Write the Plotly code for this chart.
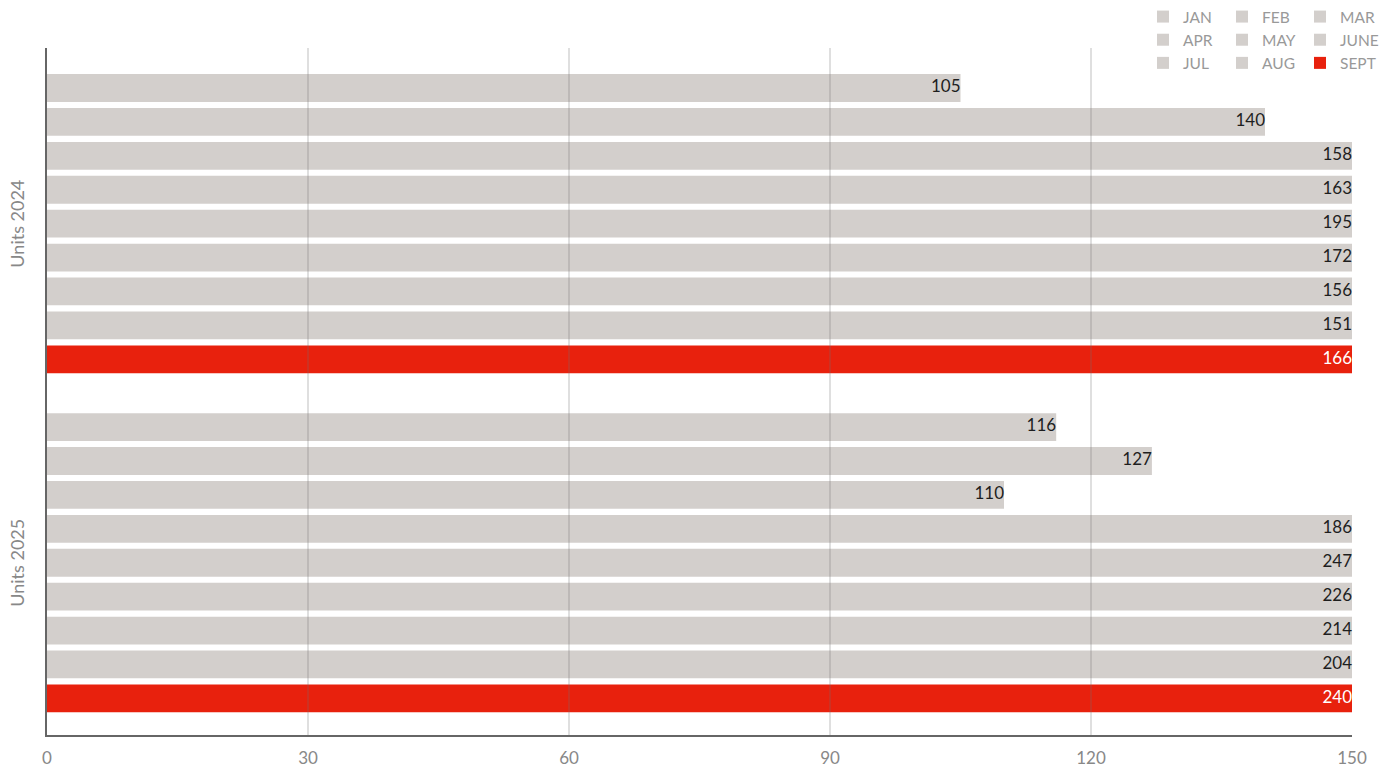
import plotly.graph_objects as go

months = ["JAN", "FEB", "MAR", "APR", "MAY", "JUNE", "JUL", "AUG", "SEPT"]
units_2024 = [105, 140, 158, 163, 195, 172, 156, 151, 166]
units_2025 = [116, 127, 110, 186, 247, 226, 214, 204, 240]
group_labels = ["Units 2024", "Units 2025"]
x_ticks = [0, 30, 60, 90, 120, 150]

GRAY = "#d3cfcc"
RED = "#e8210d"
FONT = "Lato, 'Open Sans', sans-serif"
X_MAX = 150
W, H = 1397, 771

# y positions: 2024 block, one empty slot, 2025 block
pos_2024 = list(range(len(months)))
pos_2025 = [len(months) + 1 + i for i in range(len(months))]

legend_of = ["legend", "legend2", "legend3"]

fig = go.Figure()
for i, m in enumerate(months):
    is_last = (i == len(months) - 1)
    color = RED if is_last else GRAY
    vals = [units_2024[i], units_2025[i]]
    fig.add_trace(go.Bar(
        orientation="h",
        y=[pos_2024[i], pos_2025[i]],
        x=vals,
        name=m,
        width=0.82,
        marker=dict(color=color, line=dict(width=0)),
        legend=legend_of[i % 3],
        legendgroup=m,
        showlegend=True,
        hoverinfo="x+name",
    ))
    # value labels, placed at the visible end of the bar
    fig.add_trace(go.Scatter(
        x=[min(v, X_MAX) for v in vals],
        y=[pos_2024[i], pos_2025[i]],
        mode="text",
        text=[str(v) for v in vals],
        textposition="middle left",
        textfont=dict(family=FONT, size=17,
                      color="#ffffff" if is_last else "#1e1e1e"),
        showlegend=False,
        hoverinfo="skip",
        cliponaxis=False,
    ))

n_slots = pos_2025[-1]
fig.update_layout(
    width=W, height=H,
    margin=dict(l=47, r=45, t=48, b=36, autoexpand=False),
    paper_bgcolor="white", plot_bgcolor="white",
    font=dict(family=FONT, color="#888888"),
    barmode="overlay",
    showlegend=True,
    xaxis=dict(
        range=[0, X_MAX], tickvals=x_ticks, ticktext=[str(t) for t in x_ticks],
        showgrid=False, zeroline=False,
        showline=True, linecolor="#666666", linewidth=1.5,
        ticks="", tickfont=dict(size=17, color="#888888"),
        ticklabelstandoff=7,
    ),
    yaxis=dict(
        range=[n_slots + 1.08, -1.18],
        showticklabels=False, showgrid=False, zeroline=False,
        showline=True, linecolor="#666666", linewidth=1.5,
        ticks="",
    ),
)

# vertical grid lines drawn over bars
for t in x_ticks[1:-1]:
    fig.add_shape(type="line", xref="x", yref="paper", x0=t, x1=t, y0=0, y1=1,
                  line=dict(color="rgba(110,110,110,0.45)", width=1), layer="above")

# group titles
for label, grp in zip(group_labels, [pos_2024, pos_2025]):
    fig.add_annotation(
        text=label, textangle=-90, showarrow=False,
        xref="paper", x=-0.023, xanchor="center",
        yref="y", y=(grp[0] + grp[-1]) / 2,
        font=dict(size=18, color="#888888", family=FONT),
    )

leg_common = dict(orientation="v", bgcolor="rgba(0,0,0,0)",
                  font=dict(size=15.5, color="#999999", family=FONT),
                  xref="container", yref="container",
                  xanchor="left", yanchor="top", tracegroupgap=0, itemclick=False)
fig.update_layout(
    legend=dict(x=1143 / W, y=1 + 16 / H, **leg_common),
    legend2=dict(x=1222 / W, y=1 + 16 / H, **leg_common),
    legend3=dict(x=1300 / W, y=1 + 16 / H, **leg_common),
)

fig.write_html("out.html", config={"displayModeBar": False},
               post_script="document.body.style.margin='0';")
